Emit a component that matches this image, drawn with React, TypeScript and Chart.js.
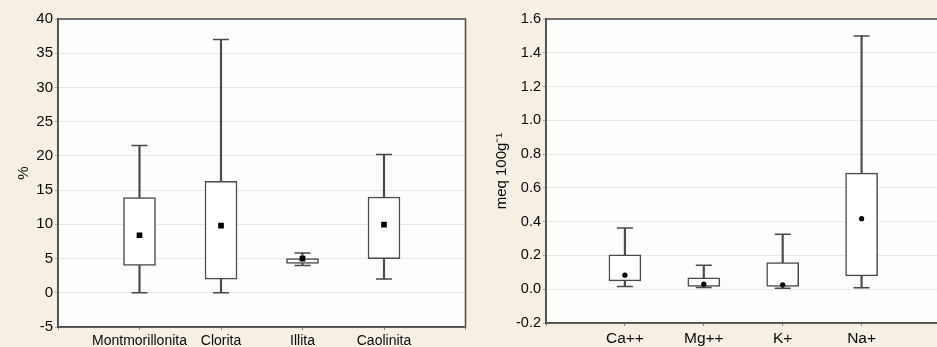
import React, { useEffect, useRef } from 'react';
import { Chart, registerables } from 'chart.js';

Chart.register(...registerables);

// ---- Left panel: clay minerals (%) ----
const mineralCats = ['Montmorillonita', 'Clorita', 'Illita', 'Caolinita'];
const mineralMin = [0, 0, 4.0, 2.0];
const mineralQ1 = [4.0, 2.0, 4.3, 5.0];
const mineralMean = [8.4, 9.8, 5.0, 9.95];
const mineralQ3 = [13.9, 16.3, 5.0, 14.0];
const mineralMax = [21.5, 37.0, 5.8, 20.2];
const mineralTickMin = -5;
const mineralTickMax = 40;
const mineralTickStep = 5;
const mineralTitle = '%';

// ---- Right panel: exchangeable cations (meq 100g-1) ----
const cationCats = ['Ca++', 'Mg++', 'K+', 'Na+'];
const cationMin = [0.016, 0.01, 0.006, 0.008];
const cationQ1 = [0.049, 0.016, 0.016, 0.079];
const cationMean = [0.083, 0.03, 0.026, 0.418];
const cationQ3 = [0.203, 0.067, 0.158, 0.687];
const cationMax = [0.362, 0.142, 0.325, 1.5];
const cationTickMin = -0.2;
const cationTickMax = 1.6;
const cationTickStep = 0.2;
const cationTitle = 'meq 100g\u207B\u00B9';

const FONT = "'Liberation Sans', Arial, Helvetica, sans-serif";
const INK = '#4a4a4a';
const TEXT = '#0a0a0a';
const BG = '#f6f0e4';

const pad = (arr: any[]) => [null, ...arr, null];

const framePlugin = {
  id: 'frame',
  beforeDraw(chart: any) {
    const { ctx, chartArea } = chart;
    ctx.save();
    ctx.fillStyle = '#fdfdfc';
    ctx.fillRect(chartArea.left, chartArea.top, chartArea.right - chartArea.left, chartArea.bottom - chartArea.top);
    ctx.restore();
  },
  afterDraw(chart: any) {
    const { ctx, chartArea } = chart;
    ctx.save();
    ctx.strokeStyle = '#505050';
    ctx.lineWidth = 1.6;
    ctx.strokeRect(chartArea.left, chartArea.top, chartArea.right - chartArea.left, chartArea.bottom - chartArea.top);
    ctx.restore();
  },
};

interface PanelProps {
  cats: string[];
  mins: number[];
  q1s: number[];
  means: number[];
  q3s: number[];
  maxs: number[];
  tMin: number;
  tMax: number;
  tStep: number;
  decimals: number;
  title: string;
  meanStyle: string;
  meanRadius: number;
  width: number;
  height: number;
  yWidth: number;
  xHeight: number;
  padRight: number;
  padTop: number;
  titlePad: number;
  yFont: number;
  xFont: number;
  titleFont: number;
}

function BoxPanel(p: PanelProps) {
  const ref = useRef<HTMLCanvasElement | null>(null);
  useEffect(() => {
    if (!ref.current) return;
    const labels = [' ', ...p.cats, '  '];
    const chart = new Chart(ref.current, {
      type: 'bar',
      data: {
        labels,
        datasets: [
          {
            type: 'bar',
            label: 'whisker',
            data: pad(p.cats.map((_, i) => [p.mins[i], p.maxs[i]])),
            backgroundColor: INK,
            borderWidth: 0,
            barThickness: 1.5,
            grouped: false,
            order: 4,
          } as any,
          {
            type: 'bar',
            label: 'box',
            data: pad(p.cats.map((_, i) => [p.q1s[i], p.q3s[i]])),
            backgroundColor: '#ffffff',
            borderColor: INK,
            borderWidth: 1.5,
            borderSkipped: false,
            barThickness: 32,
            grouped: false,
            order: 3,
          } as any,
          {
            type: 'line',
            label: 'maxCap',
            data: pad(p.maxs),
            showLine: false,
            pointStyle: 'line',
            pointRadius: 8,
            pointBorderWidth: 1.5,
            pointBorderColor: INK,
            order: 2,
          } as any,
          {
            type: 'line',
            label: 'minCap',
            data: pad(p.mins),
            showLine: false,
            pointStyle: 'line',
            pointRadius: 8,
            pointBorderWidth: 1.5,
            pointBorderColor: INK,
            order: 2,
          } as any,
          {
            type: 'line',
            label: 'mean',
            data: pad(p.means),
            showLine: false,
            pointStyle: p.meanStyle,
            pointRadius: p.meanRadius,
            pointBackgroundColor: '#000000',
            pointBorderColor: '#000000',
            pointBorderWidth: 0,
            order: 1,
          } as any,
        ],
      },
      options: {
        animation: false,
        responsive: false,
        maintainAspectRatio: false,
        layout: { padding: { left: 0, top: p.padTop, right: p.padRight, bottom: 0 } },
        plugins: { legend: { display: false }, tooltip: { enabled: false } },
        scales: {
          x: {
            type: 'category',
            offset: false,
            grid: {
              display: true,
              offset: false,
              drawOnChartArea: false,
              drawTicks: true,
              tickLength: 3,
              tickColor: '#888888',
            },
            border: { display: true, color: '#505050', width: 1.6 },
            ticks: {
              autoSkip: false,
              maxRotation: 0,
              padding: 3,
              color: TEXT,
              font: { family: FONT, size: p.xFont },
            },
            afterFit: (s: any) => {
              s.height = p.xHeight;
            },
          },
          y: {
            type: 'linear',
            min: p.tMin,
            max: p.tMax,
            grid: { color: '#e8e8e8', lineWidth: 1, tickLength: 3, tickColor: '#aaaaaa' },
            border: { display: true, color: '#505050', width: 1.6 },
            ticks: {
              stepSize: p.tStep,
              padding: 2,
              color: TEXT,
              font: { family: FONT, size: p.yFont },
              callback: (v: any) => Number(v).toFixed(p.decimals),
            },
            title: {
              display: true,
              text: p.title,
              color: TEXT,
              font: { family: FONT, size: p.titleFont },
              padding: { top: p.titlePad, bottom: 0 },
            },
            afterFit: (s: any) => {
              s.width = p.yWidth;
            },
          },
        },
      },
      plugins: [framePlugin],
    } as any);
    return () => chart.destroy();
  }, []);
  return <canvas ref={ref} width={p.width} height={p.height} style={{ display: 'block', width: p.width, height: p.height }} />;
}

export default function App() {
  return (
    <div
      style={{
        position: 'absolute',
        left: 0,
        top: 0,
        width: 937,
        height: 347,
        overflow: 'hidden',
        background: BG,
      }}
    >
      <div style={{ position: 'absolute', left: 0, top: 0 }}>
        <BoxPanel
          cats={mineralCats}
          mins={mineralMin}
          q1s={mineralQ1}
          means={mineralMean}
          q3s={mineralQ3}
          maxs={mineralMax}
          tMin={mineralTickMin}
          tMax={mineralTickMax}
          tStep={mineralTickStep}
          decimals={0}
          title={mineralTitle}
          meanStyle="rect"
          meanRadius={4}
          width={475}
          height={347}
          yWidth={58}
          xHeight={20}
          padRight={0}
          padTop={19}
          titlePad={15}
          yFont={15}
          xFont={14}
          titleFont={15}
        />
      </div>
      <div style={{ position: 'absolute', left: 470, top: 0 }}>
        <BoxPanel
          cats={cationCats}
          mins={cationMin}
          q1s={cationQ1}
          means={cationMean}
          q3s={cationQ3}
          maxs={cationMax}
          tMin={cationTickMin}
          tMax={cationTickMax}
          tStep={cationTickStep}
          decimals={1}
          title={cationTitle}
          meanStyle="circle"
          meanRadius={2.6}
          width={480}
          height={347}
          yWidth={76}
          xHeight={24}
          padRight={9}
          padTop={19}
          titlePad={23}
          yFont={14.5}
          xFont={15.5}
          titleFont={15}
        />
      </div>
    </div>
  );
}
